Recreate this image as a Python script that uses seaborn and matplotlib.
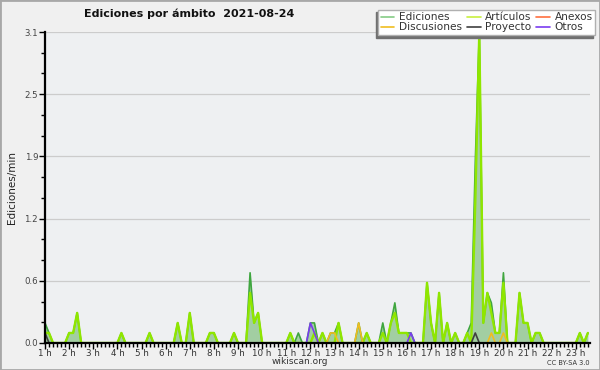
import numpy as np
import pandas as pd
import seaborn as sns
import matplotlib.pyplot as plt
import matplotlib as mpl
from matplotlib.patches import Rectangle

# 10-minute bins starting at 1:00
horas = 1 + np.arange(136) / 6

ediciones = [
    0.2, 0.1, 0, 0, 0, 0, 0.1, 0.1, 0.3, 0,
    0, 0, 0, 0, 0, 0, 0, 0, 0, 0.1,
    0, 0, 0, 0, 0, 0, 0.1, 0, 0, 0,
    0, 0, 0, 0.2, 0, 0, 0.3, 0, 0, 0,
    0, 0.1, 0.1, 0, 0, 0, 0, 0.1, 0, 0,
    0, 0.7, 0.2, 0.3, 0, 0, 0, 0, 0, 0,
    0, 0.1, 0, 0.1, 0, 0, 0.2, 0.2, 0, 0.1,
    0, 0.1, 0.1, 0.2, 0, 0, 0, 0, 0.2, 0,
    0.1, 0, 0, 0, 0.2, 0, 0.2, 0.4, 0.1, 0.1,
    0.1, 0.1, 0, 0, 0, 0.6, 0.2, 0, 0.5, 0,
    0.2, 0, 0.1, 0, 0, 0.1, 0.2, 1.8, 3.1, 0.2,
    0.5, 0.4, 0.1, 0.1, 0.7, 0, 0, 0, 0.5, 0.2,
    0.2, 0, 0.1, 0.1, 0, 0, 0, 0, 0, 0,
    0, 0, 0, 0.1, 0, 0.1,
]

articulos = [
    0.1, 0.1, 0, 0, 0, 0, 0.1, 0.1, 0.3, 0,
    0, 0, 0, 0, 0, 0, 0, 0, 0, 0.1,
    0, 0, 0, 0, 0, 0, 0.1, 0, 0, 0,
    0, 0, 0, 0.2, 0, 0, 0.3, 0, 0, 0,
    0, 0.1, 0.1, 0, 0, 0, 0, 0.1, 0, 0,
    0, 0.5, 0.2, 0.3, 0, 0, 0, 0, 0, 0,
    0, 0.1, 0, 0, 0, 0, 0, 0.1, 0, 0.1,
    0, 0, 0, 0.2, 0, 0, 0, 0, 0, 0,
    0.1, 0, 0, 0, 0.1, 0, 0.2, 0.3, 0.1, 0.1,
    0.1, 0, 0, 0, 0, 0.6, 0.2, 0, 0.5, 0,
    0.2, 0, 0.1, 0, 0, 0.1, 0, 1.4, 3.1, 0.2,
    0.5, 0.3, 0.1, 0.1, 0.6, 0, 0, 0, 0.5, 0.2,
    0.2, 0, 0.1, 0.1, 0, 0, 0, 0, 0, 0,
    0, 0, 0, 0.1, 0, 0.1,
]

# sparse series: time -> edits/min
anexos = {}
discusiones = {"12:50": 0.1, "13:00": 0.1, "14:00": 0.2, "19:30": 0.1, "20:00": 0.1}
proyecto = {"1:00": 0.1, "18:50": 0.1}
otros = {"12:00": 0.2, "12:10": 0.1, "16:10": 0.1}


def expand(sparse):
    vals = np.zeros(len(horas))
    for t, v in sparse.items():
        h, m = t.split(":")
        vals[(int(h) - 1) * 6 + int(m) // 10] = v
    return vals


df = pd.DataFrame({
    "hora": horas,
    "Ediciones": ediciones,
    "Artículos": articulos,
    "Anexos": expand(anexos),
    "Discusiones": expand(discusiones),
    "Proyecto": expand(proyecto),
    "Otros": expand(otros),
})

colores = {
    "Ediciones": "#3fa63f",
    "Artículos": "#8fe600",
    "Anexos": "#ff7040",
    "Discusiones": "#f0bd20",
    "Proyecto": "#404040",
    "Otros": "#7a3cf0",
}
leyenda_col = {"Ediciones": "#85cc85", "Artículos": "#c8f040"}

sns.set_theme(style="white")
plt.rcParams["font.family"] = ["DejaVu Sans"]

fig = plt.figure(figsize=(6, 3.7), dpi=100, facecolor="#f0f0f0")
ax = fig.add_axes([0.075, 0.073, 0.908, 0.8405])
ax.set_facecolor("#eef0f2")

ax.fill_between(df["hora"], df["Ediciones"], color="#a2cea2", lw=0, zorder=2)
orden = ["Ediciones", "Artículos", "Anexos", "Discusiones", "Proyecto", "Otros"]
for i, serie in enumerate(orden):
    sns.lineplot(data=df, x="hora", y=serie, ax=ax, color=colores[serie],
                 lw=1.7 if serie == "Artículos" else 1.2, zorder=3 + i, label=serie)

ymax = 3.1
yt = np.linspace(0, ymax, 6)
ax.set_ylim(0, ymax)
ax.set_yticks(yt)
ax.set_yticklabels([f"{v:.1f}" for v in yt])
ax.yaxis.set_minor_locator(mpl.ticker.AutoMinorLocator(3))
for v in yt[1:]:
    ax.axhline(v, color="#cccccc", lw=0.9, zorder=1)

ax.set_xlim(1, horas[-1] + 0.08)
ax.set_xticks(range(1, 24))
ax.set_xticklabels([f"{h} h" for h in range(1, 24)])
ax.xaxis.set_minor_locator(mpl.ticker.MultipleLocator(1 / 6))

ax.tick_params(axis="both", which="major", direction="out", length=4, width=1,
               color="black", bottom=True, left=True)
ax.tick_params(axis="both", which="minor", direction="out", length=3, width=1,
               color="black", bottom=True, left=True)
ax.tick_params(axis="x", labelsize=6.3, pad=0, labelcolor="#333333")
ax.tick_params(axis="y", labelsize=6.2, pad=1, labelcolor="#444444")

for s in ["top", "right"]:
    ax.spines[s].set_visible(False)
for s in ["left", "bottom"]:
    ax.spines[s].set_color("black")
    ax.spines[s].set_linewidth(1.6)
    ax.spines[s].set_zorder(15)

ax.set_xlabel(None)
ax.set_ylabel("Ediciones/min", fontsize=7.5, labelpad=5, color="#222222")

# legend in row order of the original (3 columns)
handles, labels = ax.get_legend_handles_labels()
hmap = dict(zip(labels, handles))
for k, c in leyenda_col.items():
    hmap[k] = mpl.lines.Line2D([], [], color=c, lw=1.2)
leg_orden = ["Ediciones", "Discusiones", "Artículos", "Proyecto", "Anexos", "Otros"]
leg = ax.legend([hmap[k] for k in leg_orden], leg_orden, ncol=3,
                loc="upper right", bbox_to_anchor=(0.992, 0.974),
                bbox_transform=fig.transFigure, fontsize=7.6, frameon=True,
                fancybox=False, framealpha=1, edgecolor="#b0b0b0",
                handlelength=1.3, handletextpad=0.4, columnspacing=0.5,
                labelspacing=0.0, borderpad=0.25, borderaxespad=0,
                shadow={"ox": -1.5, "oy": -2, "color": "#707070", "alpha": 1})
leg.set_zorder(20)
for t in leg.get_texts():
    t.set_color("#333333")

fig.text(0.315, 0.963, "Ediciones por ámbito  2021-08-24", fontsize=8,
         fontweight="bold", ha="center", va="center", color="#111111")
fig.text(0.5, 0.022, "wikiscan.org", fontsize=6.5, ha="center", va="center",
         color="#333333")
fig.text(0.983, 0.02, "CC BY-SA 3.0", fontsize=4.8, ha="right", va="center",
         color="#333333")

fig.patches.append(Rectangle((0, 0), 1, 1, transform=fig.transFigure,
                             fill=False, edgecolor="#a8a8a8", lw=2))

fig.savefig("out.png", dpi=100, facecolor=fig.get_facecolor())
